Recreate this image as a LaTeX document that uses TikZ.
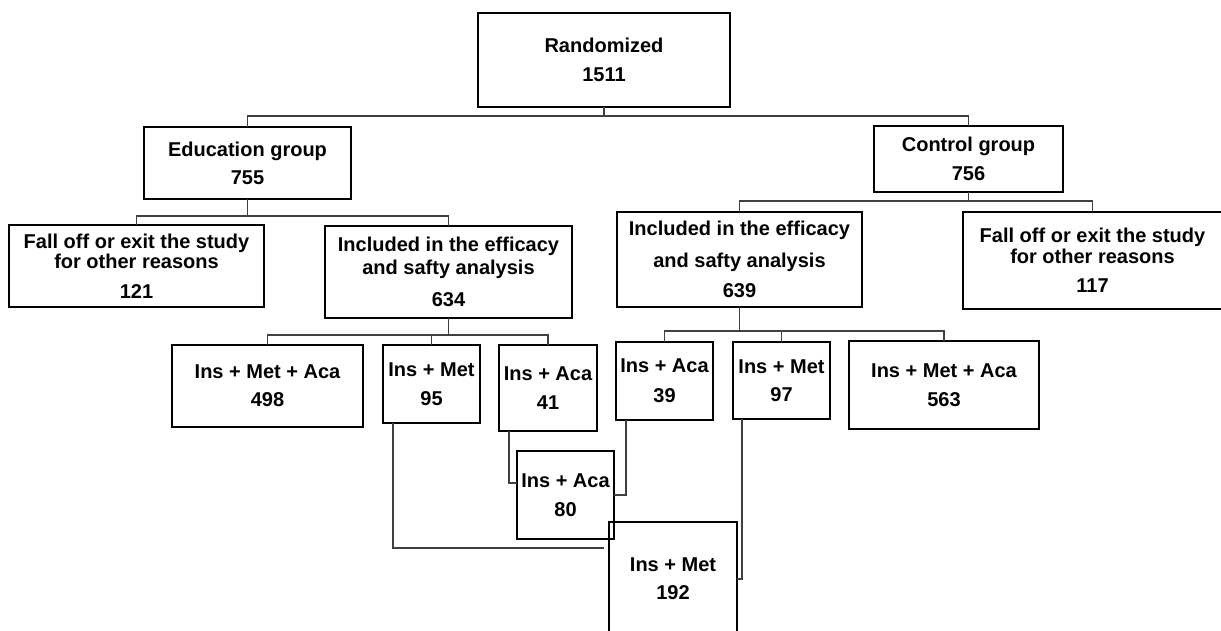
\documentclass[tikz,border=0pt]{standalone}
\usepackage{fontspec}
\setmainfont{Liberation Sans}

\begin{document}
\begin{tikzpicture}[x=1pt, y=-1pt,
		box/.style = {draw, line width=2.4pt, inner sep=0pt, outer sep=0pt, align=center,
			font=\fontsize{20}{20}\selectfont\bfseries},
		link/.style = {draw=black!75, line width=1.3pt}]
	\useasboundingbox (0,0) rectangle (1221,631);
	\clip (0,0) rectangle (1221,631);

	\begin{scope}
		\node [box, minimum width=252, minimum height=94] (rand) at (604,60) {Randomized\\[9pt]1511};
		\node [box, minimum width=207, minimum height=72] (edu) at (247.5,163) {Education group\\[8pt]755};
		\node [box, minimum width=189, minimum height=66] (ctrl) at (968.5,159) {Control group\\[9pt]756};
	\end{scope}

	\begin{scope}
		\node [box, minimum width=255, minimum height=82] (exitL) at (136.5,266) {Fall off or exit the study\\for other reasons\\[10pt]121};
		\node [box, minimum width=247, minimum height=92] (inclL) at (448.5,272) {Included in the efficacy\\[3pt]and safty analysis\\[12pt]634};
		\node [box, minimum width=245, minimum height=95] (inclR) at (739.5,259.5) {Included in the efficacy\\[12pt]and safty analysis\\[10pt]639};
		\node [box, minimum width=259, minimum height=97] (exitR) at (1092.5,260.5) {Fall off or exit the study\\[1pt]for other reasons\\[9pt]117};
	\end{scope}

	\begin{scope}
		\node [box, minimum width=191, minimum height=82] (eduIMA) at (267.5,386) {Ins + Met + Aca\\[8pt]498};
		\node [box, minimum width=97, minimum height=78] (eduIM) at (431.5,384) {Ins + Met\\[9pt]95};
		\node [box, minimum width=98, minimum height=86] (eduIA) at (548,388) {Ins + Aca\\[9pt]41};
		\node [box, minimum width=97, minimum height=78] (ctrlIA) at (664.5,381) {Ins + Aca\\[10pt]39};
		\node [box, minimum width=97, minimum height=77] (ctrlIM) at (781.5,380.5) {Ins + Met\\[8pt]97};
		\node [box, minimum width=190, minimum height=88] (ctrlIMA) at (944,385) {Ins + Met + Aca\\[9pt]563};
	\end{scope}

	\begin{scope}
		\node [box, minimum width=97, minimum height=88] (sumIA) at (565.5,495) {Ins + Aca\\[9pt]80};
		\node [box, minimum width=128, minimum height=114] (sumIM) at (673,579) {Ins + Met\\[8pt]192};
	\end{scope}

	\coordinate (j1) at (604,116);
	\coordinate (j2) at (247.5,216);
	\coordinate (j3) at (968.5,201);
	\coordinate (j4) at (448.5,335);
	\coordinate (j5) at (739.5,331);

	\begin{scope}[link]
		\draw (rand) -- (j1);
		\draw (edu) |- (j1) -| (ctrl);

		\draw (edu) -- (j2);
		\draw (exitL) |- (j2) -| (inclL);
		\draw (ctrl) -- (j3);
		\draw (inclR) |- (j3) -| (exitR);

		\draw (inclL) -- (j4);
		\draw (eduIMA) |- (j4) -| (eduIA);
		\draw (eduIM) -- (eduIM |- j4);
		\draw (inclR) -- (j5);
		\draw (ctrlIA) |- (j5) -| (ctrlIMA);
		\draw (ctrlIM) -- (ctrlIM |- j5);

		\draw ([xshift=10pt]eduIA.south west) |- ([yshift=-32pt]sumIA.north west);
		\draw ([xshift=10pt]ctrlIA.south west) |- (sumIA.east);
		\draw ([xshift=10pt]eduIM.south west) |- ([xshift=-5pt, yshift=-26pt]sumIM.north west);
		\draw ([xshift=9pt]ctrlIM.south west) |- (sumIM.east);
	\end{scope}
\end{tikzpicture}
\end{document}
